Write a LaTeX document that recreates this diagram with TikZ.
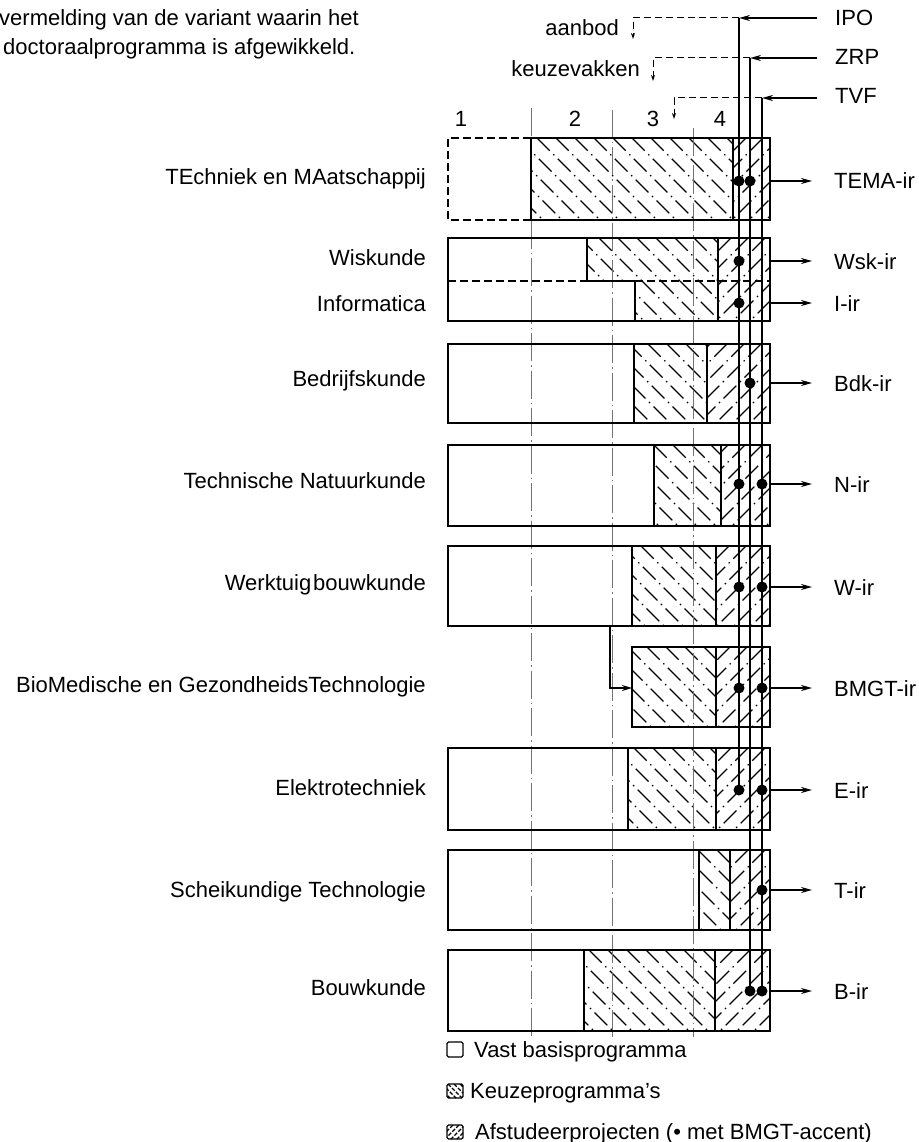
\documentclass[tikz,border=0pt]{standalone}
\usepackage{fontspec}
\setmainfont{Liberation Sans}
\usetikzlibrary{arrows.meta}

% "\" hatch (Keuzeprogramma's) in a rectangle: x1 y1 x2 y2 spacing style
\newcommand\hatchK[6]{%
  \begin{scope}
    \clip (#1,#2) rectangle (#3,#4);
    \pgfmathtruncatemacro\hkmin{floor((#1-#4)/#5)-1}%
    \pgfmathtruncatemacro\hkmax{ceil((#3-#2)/#5)+1}%
    \foreach \hk in {\hkmin,...,\hkmax}{%
      \draw[hatchline,#6] ({\hk*#5+#2},#2) -- ({\hk*#5+#4},#4);
    }
  \end{scope}}
% "/" hatch (Afstudeerprojecten)
\newcommand\hatchA[6]{%
  \begin{scope}
    \clip (#1,#2) rectangle (#3,#4);
    \pgfmathtruncatemacro\hkmin{floor((#1+#2)/#5)-1}%
    \pgfmathtruncatemacro\hkmax{ceil((#3+#4)/#5)+1}%
    \foreach \hk in {\hkmin,...,\hkmax}{%
      \draw[hatchline,#6] ({\hk*#5-#2},#2) -- ({\hk*#5-#4},#4);
    }
  \end{scope}}

\begin{document}
\begin{tikzpicture}[x=1pt,y=-1pt,
  box/.style={draw=black,line width=1.8pt},
  sepline/.style={draw=black,line width=1.6pt},
  dashbox/.style={draw=black,line width=1.5pt,dash pattern=on 8pt off 4pt},
  feed/.style={draw=black,line width=1.6pt},
  dashfeed/.style={draw=black,line width=1pt,dash pattern=on 7pt off 4pt},
  colsep/.style={draw=black!55,line width=0.8pt,dash pattern=on 28pt off 4pt on 1.5pt off 4pt},
  hatchline/.style={line width=1.1pt,dash pattern=on 18pt off 5pt on 1.5pt off 5pt},
  dot/.style={circle,fill=black,inner sep=0pt,minimum size=11pt},
  lbl/.style={font=\fontsize{22}{26}\selectfont,inner sep=0pt},
  outarrow/.style={line width=1.6pt,-{Stealth[length=11pt,width=6pt]}},
  inarrow/.style={line width=1.6pt,-{Stealth[length=11pt,width=6pt]}},
  smallarrow/.style={-{Stealth[length=6pt,width=4pt]}}
]
\fill[white] (0,0) rectangle (918,1142);
\useasboundingbox (0,0) rectangle (918,1142);

% ---------- top text ----------
\node[lbl,anchor=base west] (top1) at (-1,26) {vermelding van de variant waarin het};
\node[lbl,anchor=base west] (top2) at (3,55) {doctoraalprogramma is afgewikkeld.};

% ---------- hatching ----------
% TEMA
\hatchK{531}{138}{733}{220}{19}{}
\hatchA{733}{138}{770}{220}{17}{}
% Wiskunde / Informatica
\hatchK{587}{238}{718}{281}{19}{}
\hatchK{635}{281}{718}{321}{19}{}
\hatchA{718}{238}{770}{321}{17}{}
% other bars
\foreach \nm/\yt/\yb/\xl/\xk/\xa in {bdk/344/423/448/634/707, n/445/526/448/654/721,
    w/546/626/448/632/716, bmgt/647/727/632/632/716, e/748/830/448/628/716,
    t/850/930/448/699/730, b/950/1031/448/584/715}{
  \hatchK{\xk}{\yt}{\xa}{\yb}{19}{}
  \hatchA{\xa}{\yt}{770}{\yb}{17}{}
}

% ---------- column dividers ----------
\draw[colsep] (531,108) -- (531,1037);
\draw[colsep] (612,110) -- (612,1037);
\draw[colsep] (693,128) -- (693,1037);

% ---------- bar outlines ----------
% TEMA
\draw[dashbox] (531,138) -- (448,138) -- (448,220) -- (531,220);
\draw[box] (531,138) rectangle (770,220);
\draw[sepline] (733,138) -- (733,220);
% Wiskunde / Informatica
\draw[box] (448,238) rectangle (770,321);
\draw[dashbox] (448,281) -- (587,281);
\draw[dashbox] (635,281) -- (770,281);
\draw[sepline] (587,238) -- (587,281) -- (635,281) -- (635,321);
\draw[sepline] (718,238) -- (718,321);
% other bars
\foreach \nm/\yt/\yb/\xl/\xk/\xa in {bdk/344/423/448/634/707, n/445/526/448/654/721,
    w/546/626/448/632/716, bmgt/647/727/632/632/716, e/748/830/448/628/716,
    t/850/930/448/699/730, b/950/1031/448/584/715}{
  \draw[box] (\xl,\yt) rectangle (770,\yb);
  \draw[sepline] (\xk,\yt) -- (\xk,\yb);
  \draw[sepline] (\xa,\yt) -- (\xa,\yb);
}

% ---------- column numbers ----------
\node[lbl,anchor=base] (c1) at (461,127) {1};
\node[lbl,anchor=base] (c2) at (575,127) {2};
\node[lbl,anchor=base] (c3) at (653,127) {3};
\node[lbl,anchor=base] (c4) at (720,127) {4};

% ---------- feeds IPO / ZRP / TVF ----------
\node[lbl,anchor=base west] (ipo) at (835,26) {IPO};
\node[lbl,anchor=base west] (zrp) at (835,65) {ZRP};
\node[lbl,anchor=base west] (tvf) at (835,104) {TVF};
\node[lbl,anchor=base east] (aanbod) at (619,36) {aanbod};
\node[lbl,anchor=base east] (keuze) at (640,77) {keuzevakken};

\coordinate (ipoS) at (817,18);  \coordinate (ipoJ) at (739,18);
\coordinate (zrpS) at (817,58);  \coordinate (zrpJ) at (750,58);
\coordinate (tvfS) at (817,98);  \coordinate (tvfJ) at (762,98);
\coordinate (aanC) at (633,18);  \coordinate (aanE) at (633,39);
\coordinate (keuC) at (653,58);  \coordinate (keuE) at (653,81);
\coordinate (tvfC) at (674,98);  \coordinate (tvfE) at (674,119);

% dots (BMGT-accent)
\node[dot] (dTEi) at (739,181) {};
\node[dot] (dTEz) at (750,181) {};
\node[dot] (dWi)  at (739,261) {};
\node[dot] (dIi)  at (739,303) {};
\node[dot] (dBdz) at (750,383) {};
\node[dot] (dNi)  at (739,484) {};
\node[dot] (dNt)  at (762,484) {};
\node[dot] (dWki) at (739,587) {};
\node[dot] (dWkt) at (762,587) {};
\node[dot] (dBMi) at (739,688) {};
\node[dot] (dBMt) at (762,688) {};
\node[dot] (dEi)  at (739,790) {};
\node[dot] (dEt)  at (762,790) {};
\node[dot] (dTt)  at (762,890) {};
\node[dot] (dBz)  at (750,991) {};
\node[dot] (dBt)  at (762,991) {};

\draw[feed] (ipoJ) -- (dEi.center);
\draw[feed] (zrpJ) -- (dBz.center);
\draw[feed] (tvfJ) -- (dBt.center);
\draw[inarrow] (ipoS) -- (ipoJ);
\draw[inarrow] (zrpS) -- (zrpJ);
\draw[inarrow] (tvfS) -- (tvfJ);
\draw[dashfeed,smallarrow] (ipoJ) -- (aanC) -- (aanE);
\draw[dashfeed,smallarrow] (zrpJ) -- (keuC) -- (keuE);
\draw[dashfeed,smallarrow] (tvfJ) -- (tvfC) -- (tvfE);

% BMGT entry from Werktuigbouwkunde
\coordinate (bmgtFrom) at (610,626);
\coordinate (bmgtBend) at (610,688);
\coordinate (bmgtIn) at (632,688);
\draw[line width=1.5pt,-{Stealth[length=10pt,width=6pt]}] (bmgtFrom) -- (bmgtBend) -- (bmgtIn);

% ---------- left labels ----------
\node[lbl,anchor=base east] (lTEMA) at (426,185) {TEchniek en MAatschappij};
\node[lbl,anchor=base east] (lWsk)  at (426,265) {Wiskunde};
\node[lbl,anchor=base east] (lInf)  at (426,311) {Informatica};
\node[lbl,anchor=base east] (lBdk)  at (426,386) {Bedrijfskunde};
\node[lbl,anchor=base east] (lN)    at (426,488) {Technische Natuurkunde};
\node[lbl,anchor=base east] (lW)    at (426,590) {Werktuig\kern2pt bouwkunde};
\node[lbl,anchor=base east] (lBMGT) at (426,692) {BioMedische en GezondheidsTechnologie};
\node[lbl,anchor=base east] (lE)    at (426,795) {Elektrotechniek};
\node[lbl,anchor=base east] (lT)    at (426,897) {Scheikundige Technologie};
\node[lbl,anchor=base east] (lB)    at (426,995) {Bouwkunde};

% ---------- outputs ----------
\foreach \nm/\yy/\txt in {tema/181/TEMA-ir, wsk/261/Wsk-ir, inf/303/I-ir, bdk/383/Bdk-ir,
    n/484/N-ir, w/587/W-ir, bmgt/688/BMGT-ir, e/790/E-ir, t/890/T-ir, b/991/B-ir}{
  \coordinate (r\nm) at (770,\yy);
  \coordinate (a\nm) at (812,\yy);
  \draw[outarrow] (r\nm) -- (a\nm);
  \node[lbl,anchor=base west] (o\nm) at (834,\yy+8) {\txt};
}

% ---------- legend ----------
\draw[line width=1.2pt,rounded corners=1.5pt] (447,1042) rectangle (463,1057);
\node[lbl,anchor=base west] (leg1) at (474,1057) {Vast basisprogramma};
\hatchK{447}{1084}{463}{1098}{6}{dash pattern=on 4pt off 1.5pt}
\draw[line width=1.2pt,rounded corners=1.5pt] (447,1084) rectangle (463,1098);
\node[lbl,anchor=base west] (leg2) at (470,1098) {Keuzeprogramma's};
\hatchA{447}{1125}{463}{1139}{6}{dash pattern=on 4pt off 1.5pt}
\draw[line width=1.2pt,rounded corners=1.5pt] (447,1125) rectangle (463,1139);
\node[lbl,anchor=base west] (leg3) at (475,1139) {Afstudeerprojecten (• met BMGT-accent)};
\end{tikzpicture}
\end{document}
